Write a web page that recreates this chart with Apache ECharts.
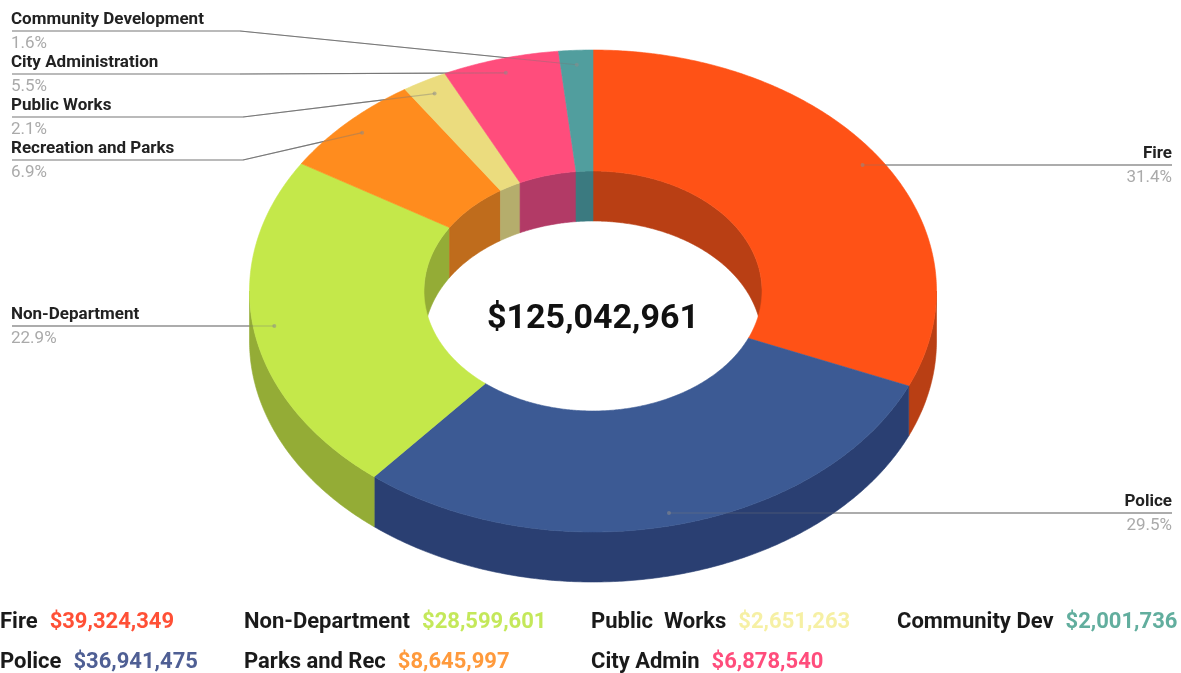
<!DOCTYPE html>
<html>
<head>
<meta charset="utf-8">
<title>Budget by department</title>
<style>
  html, body { margin: 0; padding: 0; background: #fff; }
  #chart { width: 1181px; height: 673px; }
</style>
<script src="https://cdn.jsdelivr.net/npm/echarts@6/dist/echarts.min.js"></script>
</head>
<body>
<div id="chart"></div>
<script>
// values, clockwise from 12 o'clock
var sliceNames = ['Fire', 'Police', 'Non-Department', 'Recreation and Parks', 'Public Works', 'City Administration', 'Community Development'];
var sliceValues = [39324349, 36941475, 28599601, 8645997, 2651263, 6878540, 2001736];
var percentLabels = ['31.4%', '29.5%', '22.9%', '6.9%', '2.1%', '5.5%', '1.6%'];
var totalLabel = '$125,042,961';

var legendNames = ['Fire', 'Police', 'Non-Department', 'Parks and Rec', 'Public  Works', 'City Admin', 'Community Dev'];
var legendAmounts = ['$39,324,349', '$36,941,475', '$28,599,601', '$8,645,997', '$2,651,263', '$6,878,540', '$2,001,736'];

// styles and layout
var topColors = ['#ff5216', '#3c5a94', '#c4e84a', '#ff8c1e', '#ebdc7e', '#ff4d7c', '#519e9e'];
var wallColors = ['#b93f14', '#2a3f72', '#94ac36', '#bf6c1c', '#b5ad6c', '#b23a66', '#3b7a80'];
var legendColors = ['#ff5036', '#4f5f94', '#c4e85a', '#ff9a3c', '#f6f0a4', '#ff4d7c', '#62ae9e'];
var legendPos = [[0, 622], [0, 662], [244, 622], [244, 662], [591, 622], [591, 662], [897, 622]];

var leaderY = [165, 513, 326, 160, 117, 74, 31];
var leaderElbowX = [1172, 1172, 12, 243, 243, 240, 240];
var leaderTextX = [1172, 1172, 11, 11, 11, 11, 11];

var CX = 593, CY = 291, RX = 343.5, RY = 241, INNER_RX = 169, INNER_RY = 120, DEPTH = 50;
var ANCHOR = 0.94;

var total = sliceValues.reduce(function (a, b) { return a + b; }, 0);

function startAngle(i) {
    var sum = 0;
    for (var k = 0; k < i; k++) sum += sliceValues[k];
    return sum / total * 360;
}

function pt(rx, ry, deg, dy) {
    var a = deg * Math.PI / 180;
    return [CX + rx * Math.sin(a), CY - ry * Math.cos(a) + (dy || 0)];
}

function arc(rx, ry, from, to, dy) {
    var pts = [];
    var n = Math.max(2, Math.ceil((to - from) * 2));
    for (var i = 0; i <= n; i++) pts.push(pt(rx, ry, from + (to - from) * i / n, dy));
    return pts;
}

// ring band between two arcs over from..to
function band(a, b, color) {
    return {
        type: 'polygon',
        shape: { points: a.concat(b.reverse()) },
        style: { fill: color, stroke: color, lineWidth: 0.6 }
    };
}

function renderSlice(params, api) {
    var i = params.dataIndex;
    var from = startAngle(i);
    var to = from + api.value(0) / total * 360;
    var children = [];

    // outer wall is seen on the front half only
    var f0 = Math.max(from, 90), f1 = Math.min(to, 270);
    if (f1 > f0) {
        children.push(band(arc(RX, RY, f0, f1), arc(RX, RY, f0, f1, DEPTH), wallColors[i]));
    }
    // inner wall is seen on the back half only
    [[from, Math.min(to, 90)], [Math.max(from, 270), to]].forEach(function (r) {
        if (r[1] > r[0]) {
            children.push(band(arc(INNER_RX, INNER_RY, r[0], r[1]), arc(INNER_RX, INNER_RY, r[0], r[1], DEPTH), wallColors[i]));
        }
    });
    children.push(band(arc(RX, RY, from, to), arc(INNER_RX, INNER_RY, from, to), topColors[i]));
    return { type: 'group', children: children };
}

function leaderPoints(i, value) {
    var mid = startAngle(i) + value / total * 180;
    var anchor = pt(RX * ANCHOR, RY * ANCHOR, mid);
    var y = leaderY[i];
    var right = leaderTextX[i] > CX;
    var start = [leaderTextX[i] + (right ? 0 : 1), y];
    if (right || i === 2) return [start, [anchor[0], y]];
    return [start, [leaderElbowX[i], y], anchor];
}

// full strength line, the ring covers its inner end
function renderLeaderBack(params, api) {
    return {
        type: 'polyline',
        shape: { points: leaderPoints(params.dataIndex, api.value(0)) },
        style: { fill: null, stroke: '#777', lineWidth: 1.2 }
    };
}

// faint part over the ring, plus the labels
function renderLeaderFront(params, api) {
    var i = params.dataIndex;
    var points = leaderPoints(i, api.value(0));
    var end = points[points.length - 1];
    var y = leaderY[i];
    var align = leaderTextX[i] > CX ? 'right' : 'left';
    return {
        type: 'group',
        children: [
            {
                type: 'polyline',
                shape: { points: points.slice(-2) },
                style: { fill: null, stroke: 'rgba(120,120,120,0.4)', lineWidth: 1.2 }
            },
            {
                type: 'circle',
                shape: { cx: end[0], cy: end[1], r: 2 },
                style: { fill: 'rgba(140,140,140,0.55)' }
            },
            {
                type: 'text',
                style: {
                    text: sliceNames[i], x: leaderTextX[i], y: y - 11,
                    fill: '#222', font: 'bold 17px Roboto', textAlign: align, textVerticalAlign: 'middle'
                }
            },
            {
                type: 'text',
                style: {
                    text: percentLabels[i], x: leaderTextX[i], y: y + 13,
                    fill: '#aaa', font: '17px Roboto', textAlign: align, textVerticalAlign: 'middle'
                }
            }
        ]
    };
}

var legendGraphics = legendNames.map(function (name, i) {
    return {
        type: 'text',
        x: legendPos[i][0],
        y: legendPos[i][1],
        style: {
            text: '{n|' + name + '}{v|' + legendAmounts[i] + '}',
            verticalAlign: 'middle',
            rich: {
                n: { fill: '#1a1a1a', font: 'bold 22px Roboto' },
                v: { fill: legendColors[i], font: 'bold 22px Roboto', padding: [0, 0, 0, 12] }
            }
        }
    };
});

var sliceData = sliceValues.map(function (v, i) { return { name: sliceNames[i], value: [v] }; });

var chart = echarts.init(document.getElementById('chart'));
chart.setOption({
    animation: false,
    backgroundColor: '#fff',
    graphic: legendGraphics.concat([{
        type: 'text',
        x: CX,
        y: 319,
        z: 10,
        style: {
            text: totalLabel,
            fill: '#111',
            font: 'bold 34px Roboto',
            align: 'center',
            verticalAlign: 'middle'
        }
    }]),
    series: [
        { type: 'custom', coordinateSystem: 'none', silent: true, z: 1, renderItem: renderLeaderBack, data: sliceData },
        { type: 'custom', coordinateSystem: 'none', silent: true, z: 2, renderItem: renderSlice, data: sliceData },
        { type: 'custom', coordinateSystem: 'none', silent: true, z: 3, renderItem: renderLeaderFront, data: sliceData }
    ]
});
</script>
</body>
</html>
